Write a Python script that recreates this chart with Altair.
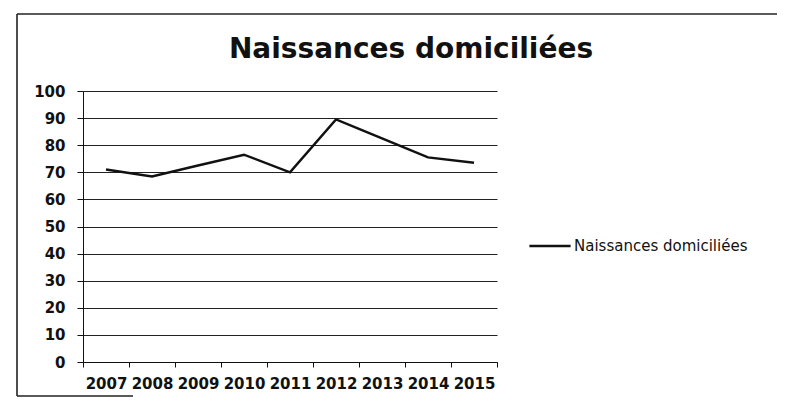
import altair as alt
import pandas as pd

years = ["2007", "2008", "2009", "2010", "2011", "2012", "2013", "2014", "2015"]
values = [71, 68.5, 72.5, 76.5, 70, 89.5, 82.5, 75.5, 73.5]
series_name = "Naissances domiciliées"
chart_title = "Naissances domiciliées"
y_ticks = [0, 10, 20, 30, 40, 50, 60, 70, 80, 90, 100]

df = pd.DataFrame({"year": years, "value": values, "series": [series_name] * len(years)})

FONT = "DejaVu Sans"
one = pd.DataFrame({"a": [0]})

def border(**enc):
    return alt.Chart(one).mark_rule(color="#222222", strokeWidth=1.6, clip=False).encode(**enc)

top_border = border(x=alt.value(-66), x2=alt.value(702), y=alt.value(-77))
left_border = border(x=alt.value(-66), y=alt.value(-77), y2=alt.value(305))
bottom_border = border(x=alt.value(-66), x2=alt.value(50), y=alt.value(305))

title = alt.Chart(pd.DataFrame({"t": [chart_title]})).mark_text(
    font=FONT, fontSize=28, fontWeight="bold", color="#111111",
    align="center", baseline="middle", clip=False
).encode(text="t:N", x=alt.value(328), y=alt.value(-41))

line = alt.Chart(df).mark_line(strokeWidth=2.5).encode(
    x=alt.X("year:O", sort=years,
            scale=alt.Scale(paddingInner=0, paddingOuter=0),
            axis=alt.Axis(title=None, labelAngle=0, tickBand="extent",
                          labelFontSize=15, labelFont=FONT, labelColor="#111111",
                          labelFontWeight="bold",
                          domainColor="#111111", tickColor="#111111", tickSize=5,
                          labelPadding=9, grid=False)),
    y=alt.Y("value:Q", scale=alt.Scale(domain=[0, 100], nice=False),
            axis=alt.Axis(title=None, values=y_ticks, labelFontSize=15, labelFont=FONT,
                          labelFontWeight="bold",
                          labelColor="#111111", domainColor="#111111", tickColor="#111111",
                          tickSize=6, labelPadding=12, gridColor="#222222", gridWidth=1.2,
                          gridOpacity=1)),
    color=alt.Color("series:N", scale=alt.Scale(range=["#111111"]),
                    legend=alt.Legend(title=None, orient="none", legendX=445, legendY=133,
                                      symbolType="stroke", symbolSize=1700, symbolStrokeWidth=2.5,
                                      labelFontSize=15, labelFont=FONT, labelColor="#111111",
                                      labelLimit=300, labelOffset=2)),
)

chart = alt.layer(top_border, left_border, bottom_border, title, line).properties(
    width=414, height=271,
    padding={"left": 75, "top": 83, "right": 280, "bottom": 35},
    autosize=alt.AutoSizeParams(type="none"),
).configure_view(stroke=None)

chart.save("out.html", embed_options={"renderer": "svg", "actions": False})
